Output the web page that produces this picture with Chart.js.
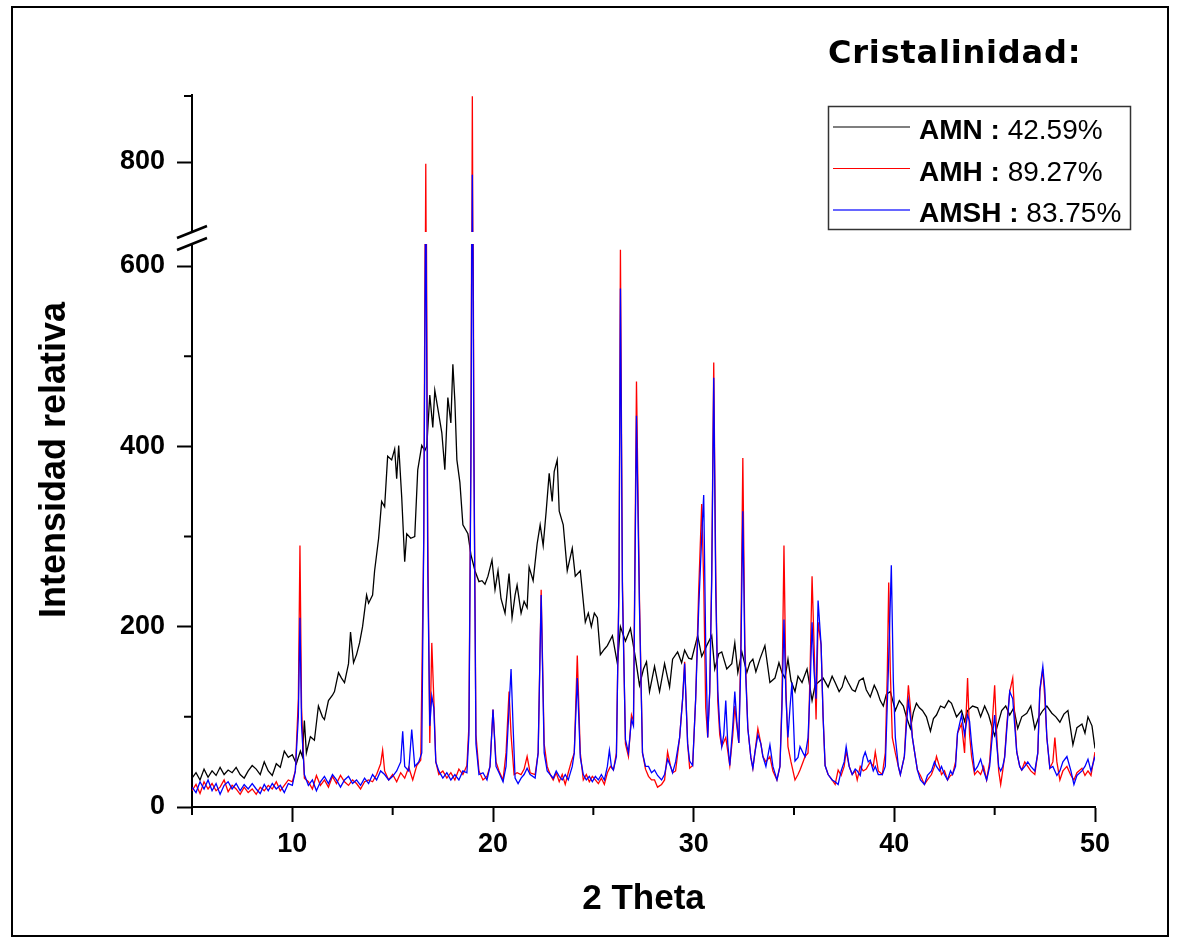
<!DOCTYPE html>
<html>
<head>
<meta charset="utf-8">
<title>Cristalinidad</title>
<script src="https://cdn.jsdelivr.net/npm/chart.js@4.4.0/dist/chart.umd.min.js"></script>
<style>
  html, body { margin: 0; padding: 0; background: #fff; }
  #wrap { position: relative; width: 1178px; height: 940px; }
</style>
</head>
<body>
<div id="wrap"><canvas id="xrdChart" width="1178" height="940"></canvas></div>
<script>
const thetaAMN = [
  5.0, 5.2, 5.4, 5.6, 5.8, 6.0, 6.2, 6.4, 6.6, 6.8,
  7.0, 7.2, 7.4, 7.6, 7.8, 8.0, 8.2, 8.4, 8.6, 8.8,
  9.0, 9.2, 9.4, 9.6, 9.8, 10.0, 10.2, 10.4, 10.5, 10.6,
  10.7, 10.9, 11.1, 11.3, 11.5, 11.6, 11.8, 12.0, 12.1, 12.3,
  12.45, 12.6, 12.8, 12.9, 13.05, 13.2, 13.35, 13.5, 13.7, 13.8,
  14.0, 14.1, 14.3, 14.45, 14.6, 14.75, 14.95, 15.1, 15.2, 15.3,
  15.45, 15.6, 15.7, 15.9, 16.1, 16.25, 16.45, 16.6, 16.7, 16.85,
  17.0, 17.1, 17.25, 17.45, 17.6, 17.75, 17.9, 18.0, 18.1, 18.2,
  18.35, 18.5, 18.75, 18.9, 19.1, 19.3, 19.45, 19.6, 19.75, 19.95,
  20.1, 20.25, 20.4, 20.6, 20.8, 20.95, 21.1, 21.2, 21.4, 21.55,
  21.7, 21.8, 22.0, 22.2, 22.35, 22.5, 22.65, 22.8, 22.95, 23.05,
  23.2, 23.3, 23.5, 23.7, 23.95, 24.1, 24.35, 24.6, 24.75, 24.9,
  25.05, 25.2, 25.35, 25.55, 25.7, 25.95, 26.2, 26.35, 26.6, 26.85,
  27.1, 27.3, 27.5, 27.65, 27.8, 28.05, 28.3, 28.55, 28.8, 28.95,
  29.2, 29.4, 29.55, 29.75, 29.9, 30.2, 30.4, 30.65, 30.9, 31.05,
  31.25, 31.4, 31.65, 31.9, 32.05, 32.2, 32.4, 32.65, 32.8, 32.95,
  33.1, 33.3, 33.55, 33.8, 34.05, 34.25, 34.4, 34.55, 34.7, 34.85,
  35.05, 35.2, 35.4, 35.65, 35.9, 36.05, 36.2, 36.45, 36.7, 36.9,
  37.05, 37.25, 37.4, 37.55, 37.7, 37.9, 38.05, 38.25, 38.45, 38.6,
  38.8, 39.0, 39.15, 39.3, 39.45, 39.6, 39.8, 40.05, 40.25, 40.45,
  40.6, 40.8, 40.95, 41.1, 41.25, 41.4, 41.6, 41.8, 41.95, 42.1,
  42.3, 42.5, 42.7, 42.85, 43.1, 43.35, 43.5, 43.65, 43.9, 44.15,
  44.3, 44.5, 44.7, 44.85, 45.0, 45.2, 45.35, 45.55, 45.75, 45.95,
  46.15, 46.35, 46.6, 46.8, 47.0, 47.2, 47.4, 47.6, 47.85, 48.05,
  48.25, 48.45, 48.65, 48.9, 49.1, 49.35, 49.5, 49.65, 49.85, 50.0
];
const intAMN = [
  32, 38, 30, 42, 33, 40, 35, 44, 36, 41,
  38, 44, 36, 32, 40, 46, 42, 36, 50, 40,
  35, 48, 44, 62, 55, 58, 48, 62, 56, 96,
  60, 78, 74, 112, 100, 97, 118, 124, 128, 149,
  143, 138, 159, 194, 160, 169, 182, 200, 235, 226,
  235, 262, 298, 339, 333, 389, 385, 397, 364, 401,
  344, 272, 303, 298, 300, 374, 401, 395, 400, 457,
  421, 462, 442, 415, 374, 454, 426, 491, 450, 385,
  360, 313, 303, 280, 262, 250, 251, 247, 256, 274,
  241, 262, 231, 215, 259, 210, 235, 246, 215, 228,
  221, 266, 251, 292, 313, 290, 328, 370, 339, 372,
  385, 328, 313, 262, 287, 256, 262, 205, 215, 200,
  215, 210, 169, 175, 179, 190, 159, 200, 184, 198,
  165, 135, 153, 161, 128, 156, 128, 159, 133, 164,
  172, 160, 174, 165, 164, 190, 167, 179, 190, 153,
  170, 172, 153, 159, 182, 149, 172, 149, 160, 164,
  150, 164, 179, 138, 143, 160, 149, 143, 164, 140,
  128, 145, 138, 153, 118, 135, 138, 143, 133, 145,
  138, 128, 133, 145, 138, 130, 128, 140, 143, 130,
  122, 135, 128, 118, 112, 125, 128, 107, 118, 112,
  100, 87, 105, 115, 110, 107, 100, 84, 98, 102,
  112, 110, 118, 115, 100, 107, 95, 107, 112, 110,
  100, 112, 102, 90, 79, 95, 107, 112, 102, 110,
  87, 100, 104, 112, 87, 100, 107, 112, 104, 100,
  94, 103, 107, 69, 88, 92, 82, 100, 90, 65
];

const thetaAMH = [
  5.0, 5.2, 5.4, 5.6, 5.8, 6.0, 6.2, 6.4, 6.6, 6.8,
  7.0, 7.2, 7.4, 7.6, 7.8, 8.0, 8.2, 8.4, 8.6, 8.8,
  9.0, 9.2, 9.4, 9.6, 9.8, 10.0, 10.15, 10.3, 10.38, 10.46,
  10.6, 10.8, 11.0, 11.2, 11.4, 11.6, 11.8, 12.0, 12.2, 12.4,
  12.6, 12.8, 13.0, 13.2, 13.4, 13.6, 13.8, 14.0, 14.2, 14.4,
  14.5, 14.6, 14.8, 15.0, 15.2, 15.4, 15.6, 15.8, 16.0, 16.2,
  16.4, 16.55, 16.65, 16.75, 16.85, 16.95, 17.05, 17.15, 17.3, 17.5,
  17.7, 17.9, 18.1, 18.3, 18.5, 18.7, 18.8, 18.9, 18.97, 19.05,
  19.15, 19.3, 19.5, 19.7, 19.85, 20.0, 20.15, 20.3, 20.5, 20.65,
  20.8, 20.9, 21.05, 21.2, 21.4, 21.55, 21.7, 21.85, 22.1, 22.25,
  22.4, 22.55, 22.7, 22.85, 23.0, 23.15, 23.3, 23.45, 23.6, 23.75,
  23.9, 24.05, 24.2, 24.35, 24.5, 24.65, 24.8, 24.95, 25.1, 25.25,
  25.4, 25.55, 25.7, 25.85, 26.0, 26.15, 26.28, 26.35, 26.45, 26.6,
  26.75, 26.9, 27.0, 27.15, 27.3, 27.45, 27.6, 27.75, 27.9, 28.05,
  28.2, 28.4, 28.55, 28.7, 28.85, 28.95, 29.1, 29.3, 29.45, 29.55,
  29.7, 29.8, 29.95, 30.1, 30.25, 30.4, 30.5, 30.6, 30.7, 30.8,
  30.9, 31.0, 31.1, 31.2, 31.3, 31.4, 31.5, 31.6, 31.7, 31.8,
  31.95, 32.05, 32.15, 32.25, 32.35, 32.45, 32.55, 32.7, 32.85, 32.95,
  33.05, 33.2, 33.35, 33.45, 33.6, 33.8, 33.95, 34.15, 34.3, 34.4,
  34.5, 34.6, 34.7, 34.85, 35.05, 35.2, 35.3, 35.45, 35.55, 35.7,
  35.8, 35.9, 36.0, 36.1, 36.2, 36.35, 36.45, 36.55, 36.7, 36.9,
  37.05, 37.2, 37.35, 37.5, 37.6, 37.75, 37.9, 38.05, 38.15, 38.3,
  38.45, 38.6, 38.8, 38.95, 39.05, 39.2, 39.4, 39.55, 39.65, 39.72,
  39.8, 39.9, 40.05, 40.2, 40.3, 40.5, 40.6, 40.7, 40.8, 40.9,
  41.05, 41.15, 41.3, 41.5, 41.65, 41.85, 42.0, 42.1, 42.25, 42.35,
  42.5, 42.65, 42.8, 42.9, 43.05, 43.15, 43.35, 43.5, 43.65, 43.75,
  43.85, 44.0, 44.15, 44.3, 44.45, 44.6, 44.75, 44.85, 45.0, 45.1,
  45.2, 45.3, 45.4, 45.5, 45.6, 45.75, 45.9, 46.0, 46.1, 46.25,
  46.35, 46.5, 46.65, 46.8, 47.0, 47.15, 47.25, 47.4, 47.5, 47.6,
  47.75, 47.9, 48.0, 48.1, 48.25, 48.4, 48.6, 48.8, 48.95, 49.1,
  49.35, 49.5, 49.65, 49.8, 50.0
];
const intAMH = [
  18, 25, 15, 28, 20, 26, 18, 22, 30, 17,
  24, 20, 14, 22, 16, 20, 14, 22, 18, 24,
  20, 28, 18, 24, 30, 28, 40, 120, 290, 110,
  32, 28, 20, 35, 24, 30, 22, 34, 26, 35,
  28, 24, 30, 26, 20, 28, 30, 28, 36, 48,
  63, 40, 30, 36, 28, 38, 32, 44, 30, 46,
  52, 300, 798, 300, 71, 182, 120, 50, 36, 40,
  32, 38, 30, 42, 36, 46, 90, 400, 873, 400,
  80, 40, 30, 34, 45, 108, 50, 40, 30, 60,
  128, 80, 36, 38, 36, 42, 56, 38, 36, 60,
  241, 70, 45, 36, 30, 38, 28, 36, 25, 38,
  50, 60, 168, 60, 30, 36, 28, 34, 30, 26,
  32, 25, 38, 45, 41, 60, 250, 618, 250, 70,
  56, 102, 95, 472, 230, 60, 42, 34, 30, 30,
  22, 25, 30, 61, 45, 38, 40, 77, 120, 161,
  70, 43, 46, 120, 240, 336, 250, 110, 77, 128,
  260, 493, 260, 118, 80, 67, 72, 77, 62, 46,
  80, 112, 90, 71, 180, 387, 180, 87, 55, 43,
  60, 87, 70, 56, 50, 56, 40, 30, 45, 120,
  290, 130, 67, 50, 30, 36, 41, 50, 56, 60,
  150, 256, 180, 97, 205, 180, 100, 46, 36, 30,
  25, 41, 35, 45, 62, 45, 36, 40, 30, 45,
  40, 42, 50, 45, 61, 40, 36, 60, 150, 249,
  150, 77, 60, 45, 36, 56, 100, 135, 110, 77,
  55, 41, 35, 25, 30, 36, 45, 56, 45, 36,
  40, 30, 35, 36, 50, 82, 92, 60, 143, 80,
  56, 36, 40, 36, 45, 30, 50, 82, 135, 80,
  40, 25, 40, 57, 90, 128, 143, 100, 61, 45,
  41, 50, 45, 40, 36, 60, 128, 153, 120, 77,
  43, 50, 77, 50, 30, 40, 45, 35, 30, 38,
  43, 35, 40, 35, 61
];

const thetaAMSH = [
  5.0, 5.2, 5.4, 5.6, 5.8, 6.0, 6.2, 6.4, 6.6, 6.8,
  7.0, 7.2, 7.4, 7.6, 7.8, 8.0, 8.2, 8.4, 8.6, 8.8,
  9.0, 9.2, 9.4, 9.6, 9.8, 10.0, 10.15, 10.3, 10.38, 10.46,
  10.6, 10.8, 11.0, 11.2, 11.4, 11.6, 11.8, 12.0, 12.2, 12.4,
  12.6, 12.8, 13.0, 13.2, 13.4, 13.6, 13.8, 14.0, 14.2, 14.4,
  14.6, 14.8, 15.0, 15.2, 15.4, 15.5, 15.6, 15.8, 15.95, 16.1,
  16.3, 16.45, 16.55, 16.65, 16.75, 16.85, 16.95, 17.05, 17.15, 17.3,
  17.5, 17.7, 17.9, 18.1, 18.3, 18.5, 18.7, 18.8, 18.9, 18.97,
  19.05, 19.15, 19.3, 19.5, 19.7, 19.85, 20.0, 20.15, 20.3, 20.5,
  20.65, 20.8, 20.9, 21.0, 21.1, 21.25, 21.4, 21.55, 21.7, 21.85,
  22.1, 22.25, 22.4, 22.55, 22.7, 22.85, 23.0, 23.15, 23.3, 23.45,
  23.6, 23.75, 23.95, 24.05, 24.2, 24.35, 24.5, 24.65, 24.8, 24.95,
  25.1, 25.25, 25.4, 25.55, 25.7, 25.8, 25.9, 26.0, 26.15, 26.28,
  26.35, 26.45, 26.6, 26.75, 26.9, 27.0, 27.15, 27.3, 27.45, 27.6,
  27.75, 27.9, 28.05, 28.2, 28.4, 28.55, 28.7, 28.85, 28.95, 29.1,
  29.3, 29.45, 29.55, 29.7, 29.8, 29.95, 30.1, 30.25, 30.4, 30.5,
  30.6, 30.7, 30.8, 30.9, 31.0, 31.1, 31.2, 31.3, 31.4, 31.5,
  31.6, 31.7, 31.8, 31.95, 32.05, 32.15, 32.25, 32.35, 32.45, 32.55,
  32.7, 32.85, 32.95, 33.05, 33.2, 33.35, 33.45, 33.6, 33.8, 33.95,
  34.15, 34.3, 34.4, 34.5, 34.6, 34.7, 34.8, 34.9, 35.05, 35.2,
  35.3, 35.45, 35.55, 35.7, 35.8, 35.9, 36.0, 36.1, 36.2, 36.35,
  36.45, 36.55, 36.7, 36.9, 37.05, 37.2, 37.35, 37.5, 37.6, 37.75,
  37.9, 38.05, 38.15, 38.3, 38.45, 38.55, 38.7, 38.8, 38.95, 39.05,
  39.2, 39.4, 39.55, 39.7, 39.85, 39.95, 40.05, 40.2, 40.3, 40.5,
  40.6, 40.7, 40.8, 40.9, 41.05, 41.15, 41.3, 41.5, 41.65, 41.85,
  42.0, 42.1, 42.25, 42.35, 42.5, 42.65, 42.8, 42.9, 43.05, 43.15,
  43.35, 43.5, 43.65, 43.75, 43.85, 44.0, 44.15, 44.3, 44.45, 44.6,
  44.75, 44.85, 45.0, 45.1, 45.2, 45.3, 45.4, 45.5, 45.6, 45.75,
  45.9, 46.0, 46.1, 46.25, 46.35, 46.5, 46.65, 46.8, 47.0, 47.15,
  47.25, 47.4, 47.5, 47.6, 47.75, 47.9, 48.0, 48.1, 48.25, 48.4,
  48.6, 48.8, 48.95, 49.1, 49.35, 49.5, 49.65, 49.8, 50.0
];
const intAMSH = [
  22, 16, 28, 20, 30, 18, 26, 14, 24, 28,
  20, 26, 18, 25, 20, 26, 20, 15, 25, 18,
  26, 20, 24, 16, 26, 24, 40, 100, 210, 90,
  36, 24, 30, 18, 28, 34, 26, 36, 30, 22,
  30, 34, 26, 30, 24, 32, 26, 36, 30, 40,
  36, 30, 34, 40, 50, 84, 45, 40, 86, 45,
  50, 60, 300, 700, 260, 90, 123, 110, 50, 40,
  32, 38, 30, 36, 30, 40, 38, 80, 380, 786,
  380, 70, 36, 38, 30, 45, 108, 45, 38, 28,
  45, 110, 153, 90, 32, 26, 32, 36, 43, 36,
  32, 60, 235, 60, 40, 36, 32, 40, 34, 30,
  36, 30, 45, 60, 143, 55, 36, 30, 34, 28,
  34, 30, 36, 30, 45, 63, 45, 41, 56, 250,
  575, 240, 75, 60, 97, 90, 434, 220, 60, 45,
  45, 38, 41, 35, 30, 36, 53, 45, 38, 50,
  77, 120, 159, 70, 51, 46, 120, 220, 300, 346,
  180, 77, 128, 250, 476, 240, 130, 90, 67, 80,
  118, 70, 46, 90, 128, 95, 71, 160, 328, 170,
  87, 55, 43, 60, 80, 70, 56, 45, 69, 45,
  30, 45, 110, 208, 120, 77, 110, 138, 51, 55,
  67, 60, 56, 77, 130, 205, 150, 120, 229, 180,
  100, 46, 36, 30, 28, 25, 40, 50, 67, 45,
  36, 42, 40, 35, 55, 61, 50, 52, 40, 45,
  36, 36, 45, 150, 268, 140, 77, 45, 36, 56,
  90, 118, 100, 77, 55, 41, 30, 25, 35, 40,
  50, 45, 40, 45, 36, 30, 40, 36, 45, 82,
  102, 80, 102, 95, 70, 40, 45, 53, 40, 30,
  45, 71, 102, 70, 45, 40, 45, 55, 85, 128,
  120, 90, 61, 45, 41, 45, 50, 45, 40, 60,
  130, 156, 130, 77, 43, 45, 40, 35, 40, 50,
  56, 40, 25, 35, 40, 45, 53, 40, 56
];

const seriesNames = ['AMN', 'AMH', 'AMSH'];
const crystallinity = ['42.59%', '89.27%', '83.75%'];
const seriesColors = ['#000000', '#ff0000', '#0000ff'];

// eje Y partido: tramo bajo y tramo alto
const lowRange = [0, 624.4];
const highRange = [722.4, 874.3];

const FONT = '"Liberation Sans", Arial, sans-serif';

function toPoints(xs, ys) {
  return xs.map((x, i) => ({ x: x, y: ys[i] }));
}

function lineSet(label, xs, ys, color, axis, order) {
  return {
    label: label,
    data: toPoints(xs, ys),
    borderColor: color,
    backgroundColor: color,
    borderWidth: 1.3,
    pointRadius: 0,
    tension: 0,
    yAxisID: axis,
    order: order
  };
}

// recorta cada serie a la franja de su eje y dibuja los detalles del eje roto
const brokenAxisPlugin = {
  id: 'brokenAxis',
  beforeDatasetDraw(chart, args) {
    const ys = chart.scales[args.meta.yAxisID];
    const area = chart.chartArea;
    const ctx = chart.ctx;
    ctx.save();
    ctx.beginPath();
    ctx.rect(area.left, ys.top, area.right - area.left, ys.bottom - ys.top);
    ctx.clip();
  },
  afterDatasetDraw(chart) {
    chart.ctx.restore();
  },
  afterDraw(chart) {
    const ctx = chart.ctx;
    const yLow = chart.scales.yLow;
    const yHigh = chart.scales.yHigh;
    const x = chart.scales.x;
    const axisX = yLow.right;
    ctx.save();
    ctx.strokeStyle = '#000';
    ctx.lineWidth = 2;

    // marcas menores
    ctx.beginPath();
    [100, 300, 500].forEach(v => {
      const py = yLow.getPixelForValue(v);
      ctx.moveTo(axisX - 8, py);
      ctx.lineTo(axisX, py);
    });
    ctx.moveTo(axisX - 8, yHigh.top + 1);
    ctx.lineTo(axisX, yHigh.top + 1);
    [5, 15, 25, 35, 45].forEach(v => {
      const px = x.getPixelForValue(v);
      ctx.moveTo(px, x.top);
      ctx.lineTo(px, x.top + 8);
    });
    ctx.stroke();

    // marcas del corte
    ctx.lineWidth = 2.5;
    ctx.beginPath();
    [yHigh.bottom, yLow.top].forEach(py => {
      ctx.moveTo(axisX - 15, py + 6);
      ctx.lineTo(axisX + 15, py - 6);
    });
    ctx.stroke();

    // marco de la figura
    ctx.lineWidth = 2;
    ctx.strokeRect(12, 7, 1156, 929);

    // título del eje Y
    ctx.fillStyle = '#000';
    ctx.save();
    ctx.translate(55, 460);
    ctx.rotate(-Math.PI / 2);
    ctx.font = 'bold 36px ' + FONT;
    ctx.textAlign = 'center';
    ctx.textBaseline = 'middle';
    ctx.fillText('Intensidad relativa', 0, 0);
    ctx.restore();

    // encabezado
    ctx.save();
    ctx.font = 'bold 32px "DejaVu Sans", sans-serif';
    ctx.letterSpacing = '0.8px';
    ctx.textAlign = 'left';
    ctx.textBaseline = 'alphabetic';
    ctx.fillText('Cristalinidad:', 828, 63);
    ctx.restore();

    // leyenda
    ctx.lineWidth = 1.5;
    ctx.strokeStyle = '#333';
    ctx.strokeRect(828.5, 106.5, 302, 123);
    seriesNames.forEach((name, i) => {
      const base = 139 + i * 41.5;
      ctx.strokeStyle = seriesColors[i];
      ctx.lineWidth = i === 2 ? 2 : 1.2;
      ctx.globalAlpha = i === 2 ? 0.6 : 1;
      ctx.beginPath();
      ctx.moveTo(833, base - 12);
      ctx.lineTo(910, base - 12);
      ctx.stroke();
      ctx.globalAlpha = 1;
      ctx.font = 'bold 28px ' + FONT;
      const head = name + ' :';
      ctx.fillText(head, 919, base);
      const w = ctx.measureText(head + ' ').width;
      ctx.font = '28px ' + FONT;
      ctx.fillText(crystallinity[i], 919 + w, base);
    });
    ctx.restore();
  }
};

function tickColorEvery(step) {
  return ctx => (ctx.tick && ctx.tick.value % step === 0) ? '#000' : 'rgba(0,0,0,0)';
}

function keepHundreds(scale) {
  scale.ticks = scale.ticks.filter(t => t.value % 100 === 0);
}

const yTicks = {
  stepSize: 100,
  includeBounds: false,
  autoSkip: false,
  color: '#000',
  padding: 12,
  font: { family: FONT, size: 27, weight: 'bold' },
  callback: v => (v % 200 === 0 ? v : '')
};

new Chart(document.getElementById('xrdChart'), {
  type: 'line',
  data: {
    datasets: [
      lineSet(seriesNames[2], thetaAMSH, intAMSH, seriesColors[2], 'yLow', 1),
      lineSet(seriesNames[1], thetaAMH, intAMH, seriesColors[1], 'yLow', 2),
      lineSet(seriesNames[0], thetaAMN, intAMN, seriesColors[0], 'yLow', 3),
      lineSet(seriesNames[2], thetaAMSH, intAMSH, seriesColors[2], 'yHigh', 1),
      lineSet(seriesNames[1], thetaAMH, intAMH, seriesColors[1], 'yHigh', 2)
    ]
  },
  options: {
    responsive: false,
    animation: false,
    devicePixelRatio: 1,
    layout: { padding: { top: 95, right: 83, bottom: 0, left: 0 } },
    plugins: {
      legend: { display: false },
      tooltip: { enabled: false }
    },
    scales: {
      x: {
        type: 'linear',
        position: 'bottom',
        min: 5,
        max: 50,
        afterFit: s => { s.height = 133; },
        border: { color: '#000', width: 2 },
        grid: { drawOnChartArea: false, tickLength: 15, tickWidth: 2, tickColor: tickColorEvery(10) },
        ticks: {
          stepSize: 5,
          autoSkip: false,
          maxRotation: 0,
          color: '#000',
          padding: 6,
          font: { family: FONT, size: 27, weight: 'bold' },
          callback: v => (v % 10 === 0 ? v : '')
        },
        title: {
          display: true,
          text: '2 Theta',
          color: '#000',
          font: { family: FONT, size: 35, weight: 'bold' },
          padding: { top: 0, bottom: 20 }
        }
      },
      yLow: {
        type: 'linear',
        position: 'left',
        stack: 'broken',
        stackWeight: 563,
        weight: 1,
        min: lowRange[0],
        max: lowRange[1],
        afterBuildTicks: keepHundreds,
        afterFit: s => { s.width = 192; },
        border: { color: '#000', width: 2 },
        grid: { drawOnChartArea: false, tickLength: 15, tickWidth: 2, tickColor: tickColorEvery(200) },
        ticks: yTicks
      },
      yGap: {
        type: 'linear',
        position: 'left',
        stack: 'broken',
        stackWeight: 12,
        weight: 2,
        display: false,
        min: 0,
        max: 1
      },
      yHigh: {
        type: 'linear',
        position: 'left',
        stack: 'broken',
        stackWeight: 137,
        weight: 3,
        min: highRange[0],
        max: highRange[1],
        afterBuildTicks: keepHundreds,
        afterFit: s => { s.width = 192; },
        border: { color: '#000', width: 2 },
        grid: { drawOnChartArea: false, tickLength: 15, tickWidth: 2, tickColor: tickColorEvery(200) },
        ticks: yTicks
      }
    }
  },
  plugins: [brokenAxisPlugin]
});
</script>
</body>
</html>
